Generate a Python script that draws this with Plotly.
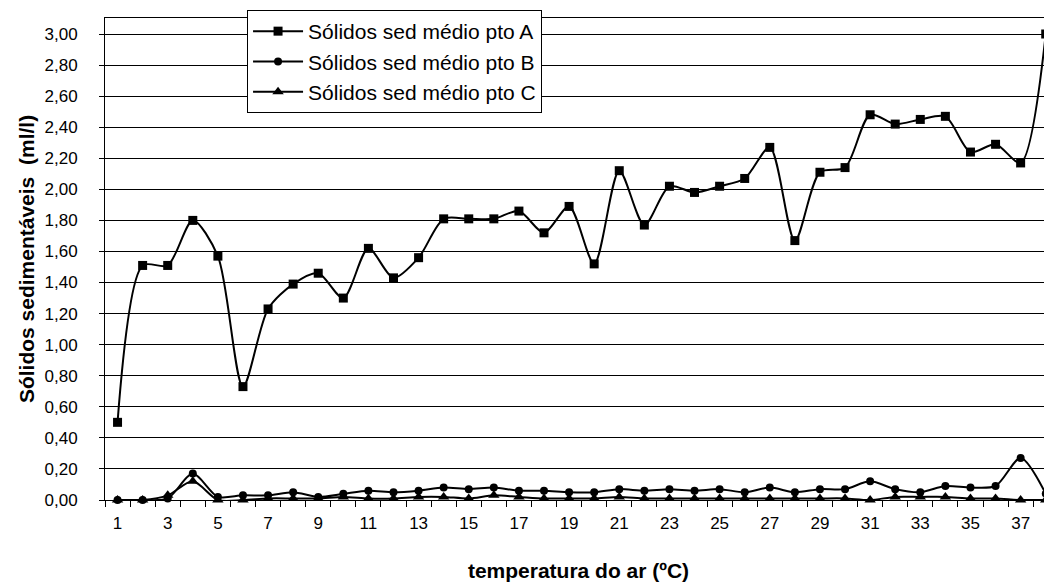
import plotly.graph_objects as go

categories = [1, 2, 3, 4, 5, 6, 7, 8, 9, 10, 11, 12, 13, 14, 15, 16, 17, 18, 19,
              20, 21, 22, 23, 24, 25, 26, 27, 28, 29, 30, 31, 32, 33, 34, 35, 36, 37, 38]

serie_a = [0.50, 1.51, 1.51, 1.80, 1.57, 0.73, 1.23, 1.39, 1.46, 1.30, 1.62, 1.43, 1.56,
           1.81, 1.81, 1.81, 1.86, 1.72, 1.89, 1.52, 2.12, 1.77, 2.02, 1.98, 2.02, 2.07,
           2.27, 1.67, 2.11, 2.14, 2.48, 2.42, 2.45, 2.47, 2.24, 2.29, 2.17, 3.00]
serie_b = [0.00, 0.00, 0.01, 0.17, 0.02, 0.03, 0.03, 0.05, 0.02, 0.04, 0.06, 0.05, 0.06,
           0.08, 0.07, 0.08, 0.06, 0.06, 0.05, 0.05, 0.07, 0.06, 0.07, 0.06, 0.07, 0.05,
           0.08, 0.05, 0.07, 0.07, 0.12, 0.07, 0.05, 0.09, 0.08, 0.09, 0.27, 0.04]
serie_c = [0.00, 0.00, 0.03, 0.12, 0.00, 0.00, 0.01, 0.01, 0.01, 0.02, 0.01, 0.01, 0.02,
           0.02, 0.01, 0.03, 0.02, 0.01, 0.01, 0.01, 0.02, 0.01, 0.01, 0.01, 0.01, 0.01,
           0.01, 0.01, 0.01, 0.01, 0.00, 0.02, 0.02, 0.02, 0.01, 0.01, 0.00, 0.00]

names = ["Sólidos sed médio pto A", "Sólidos sed médio pto B", "Sólidos sed médio pto C"]
symbols = ["square", "circle", "triangle-up"]
marker_sizes = [9, 8, 10]

x_ticklabels = [str(c) for c in categories if c % 2 == 1]
x_tickvals = [c for c in categories if c % 2 == 1]

FONT = "Liberation Sans, Arial, sans-serif"
FS = 17
FS_LEG = 21
FS_TITLE = 21

fig = go.Figure()
for i, (vals, name, sym, ms) in enumerate(zip([serie_a, serie_b, serie_c], names, symbols, marker_sizes)):
    fig.add_trace(go.Scatter(
        x=categories, y=vals, name=name, mode="lines+markers",
        line=dict(color="black", width=2, shape="spline", smoothing=0.8),
        marker=dict(symbol=sym, size=ms, color="black"),
        legendgroup=f"g{i}",
        cliponaxis=False,
    ))

# page body has an 8px margin; figure is sized to fit the 1052x585 window
fig.update_layout(
    width=1044, height=577,
    margin=dict(l=97, r=0, t=10, b=85, autoexpand=False),
    paper_bgcolor="white", plot_bgcolor="white",
    separators=",.",
    font=dict(family=FONT, size=FS, color="black"),
    showlegend=True,
    legend=dict(
        x=0.15, y=1.0166, xanchor="left", yanchor="top",
        bgcolor="white", bordercolor="black", borderwidth=1,
        font=dict(family=FONT, size=FS_LEG, color="black"),
        itemwidth=50, tracegroupgap=4, traceorder="normal",
    ),
    xaxis=dict(
        range=[0.5, 38.25], automargin=False,
        tickmode="array", tickvals=x_tickvals, ticktext=x_ticklabels,
        ticks="", showgrid=False, zeroline=False, ticklabelstandoff=8,
        showline=True, linecolor="black", linewidth=1, mirror=True,
        tickfont=dict(family=FONT, size=FS, color="black"),
        minor=dict(ticks="outside", tick0=0.5, dtick=1, ticklen=6, tickcolor="black", showgrid=False),
        title=dict(text="<b>temperatura do ar (ºC)</b>", font=dict(family=FONT, size=FS_TITLE, color="black"), standoff=30),
    ),
    yaxis=dict(
        range=[0, 3.103], automargin=False, tickmode="linear", tick0=0, dtick=0.2, tickformat=".2f",
        ticks="outside", ticklen=5, tickcolor="black", ticklabelstandoff=18,
        showgrid=True, gridcolor="black", gridwidth=1, zeroline=False,
        showline=True, linecolor="black", linewidth=1,
        tickfont=dict(family=FONT, size=FS, color="black"),
        title=dict(text="<b>Sólidos sedimentáveis  (ml/l)</b>", font=dict(family=FONT, size=FS_TITLE, color="black"), standoff=4),
    ),
)

fig.write_html("out.html")
